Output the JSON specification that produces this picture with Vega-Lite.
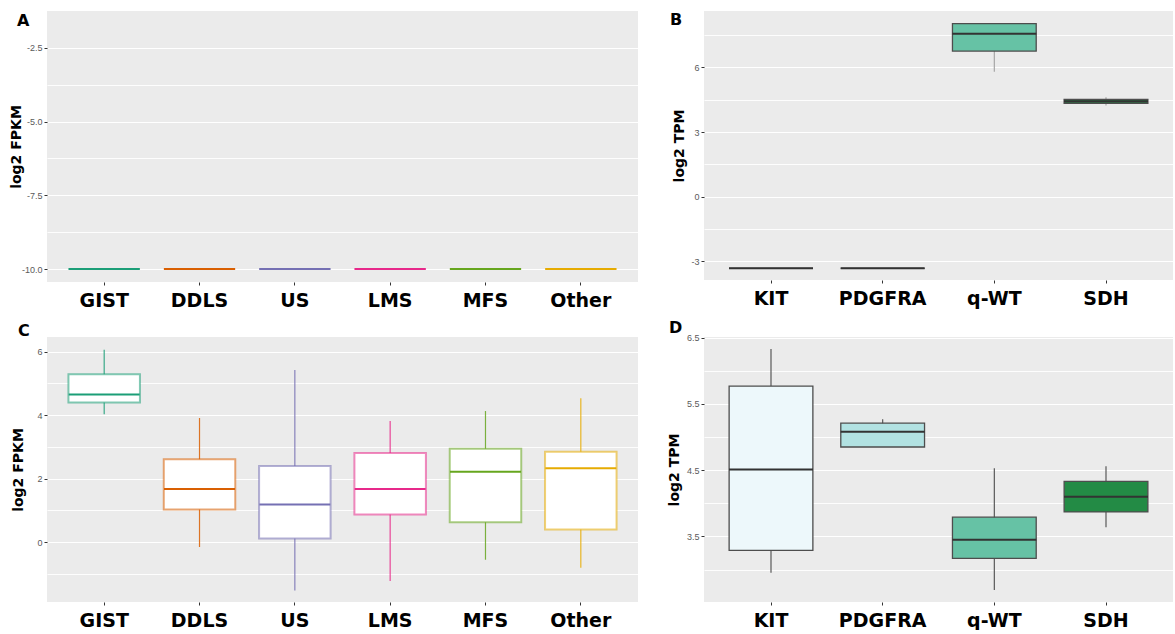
{
  "$schema": "https://vega.github.io/schema/vega-lite/v6.json",
  "padding": {"left": 9, "top": 11, "right": 0, "bottom": 0},
  "background": "white",
  "datasets": {
    "panelA": [
      {"group": "GIST", "lower": -10, "q1": -10, "median": -10, "q3": -10, "upper": -10},
      {"group": "DDLS", "lower": -10, "q1": -10, "median": -10, "q3": -10, "upper": -10},
      {"group": "US", "lower": -10, "q1": -10, "median": -10, "q3": -10, "upper": -10},
      {"group": "LMS", "lower": -10, "q1": -10, "median": -10, "q3": -10, "upper": -10},
      {"group": "MFS", "lower": -10, "q1": -10, "median": -10, "q3": -10, "upper": -10},
      {"group": "Other", "lower": -10, "q1": -10, "median": -10, "q3": -10, "upper": -10}
    ],
    "panelB": [
      {"group": "KIT", "lower": -3.32, "q1": -3.32, "median": -3.32, "q3": -3.32, "upper": -3.32},
      {"group": "PDGFRA", "lower": -3.32, "q1": -3.32, "median": -3.32, "q3": -3.32, "upper": -3.32},
      {"group": "q-WT", "lower": 5.8, "q1": 6.76, "median": 7.57, "q3": 8.03, "upper": 8.03},
      {"group": "SDH", "lower": 4.23, "q1": 4.34, "median": 4.43, "q3": 4.52, "upper": 4.62}
    ],
    "panelC": [
      {"group": "GIST", "lower": 4.03, "q1": 4.4, "median": 4.65, "q3": 5.29, "upper": 6.06},
      {"group": "DDLS", "lower": -0.15, "q1": 1.03, "median": 1.68, "q3": 2.61, "upper": 3.91},
      {"group": "US", "lower": -1.52, "q1": 0.12, "median": 1.19, "q3": 2.4, "upper": 5.42},
      {"group": "LMS", "lower": -1.22, "q1": 0.87, "median": 1.68, "q3": 2.81, "upper": 3.82},
      {"group": "MFS", "lower": -0.55, "q1": 0.63, "median": 2.22, "q3": 2.94, "upper": 4.13},
      {"group": "Other", "lower": -0.8, "q1": 0.4, "median": 2.33, "q3": 2.85, "upper": 4.53}
    ],
    "panelD": [
      {"group": "KIT", "lower": 2.95, "q1": 3.29, "median": 4.51, "q3": 5.77, "upper": 6.33},
      {"group": "PDGFRA", "lower": 4.85, "q1": 4.85, "median": 5.08, "q3": 5.21, "upper": 5.27},
      {"group": "q-WT", "lower": 2.69, "q1": 3.17, "median": 3.45, "q3": 3.79, "upper": 4.53},
      {"group": "SDH", "lower": 3.64, "q1": 3.87, "median": 4.1, "q3": 4.33, "upper": 4.56}
    ]
  },
  "columns": 2,
  "bounds": "flush",
  "align": "each",
  "spacing": {"row": 55, "column": 66},
  "concat": [
    {
      "width": 591,
      "height": 271,
      "title": {"text": "A", "dx": -30, "dy": 22},
      "data": {"name": "panelA"},
      "resolve": {"axis": {"y": "independent"}},
      "encoding": {
        "x": {"field": "group", "type": "nominal", "sort": null, "title": null,
              "scale": {"paddingInner": 0, "paddingOuter": 0.1}}
      },
      "layer": [
        {
          "mark": {"type": "rule", "strokeWidth": 1.2},
          "encoding": {
            "y": {"field": "lower", "type": "quantitative", "title": "log2 FPKM",
                  "scale": {"domain": [-10.44, -1.25], "nice": false, "zero": false},
                  "axis": {"values": [-10, -7.5, -5, -2.5], "format": ".1f", "titleX": -24,
                           "labelExpr": "replace(datum.label, '\u2212', '-')"}},
            "y2": {"field": "upper"},
            "color": {"field": "group", "type": "nominal", "legend": null,
                      "scale": {"domain": ["GIST", "DDLS", "US", "LMS", "MFS", "Other"],
                                "range": ["#1b9e77", "#d95f02", "#7570b3", "#e7298a", "#66a61e", "#e6ab02"]}}
          }
        },
        {
          "mark": {"type": "bar", "width": {"band": 0.75}, "fill": "white", "strokeWidth": 2, "strokeOpacity": 0.55},
          "encoding": {
            "y": {"field": "q1", "type": "quantitative", "title": null,
                  "scale": {"domain": [-10.44, -1.25], "nice": false, "zero": false},
                  "axis": {"orient": "left", "values": [-8.75, -6.25, -3.75], "labels": false, "ticks": false, "grid": true, "gridWidth": 0.9}},
            "y2": {"field": "q3"},
            "stroke": {"field": "group", "type": "nominal", "legend": null,
                       "scale": {"domain": ["GIST", "DDLS", "US", "LMS", "MFS", "Other"],
                                 "range": ["#1b9e77", "#d95f02", "#7570b3", "#e7298a", "#66a61e", "#e6ab02"]}}
          }
        },
        {
          "mark": {"type": "tick", "thickness": 2, "size": 71, "opacity": 1},
          "encoding": {
            "y": {"field": "median", "type": "quantitative", "axis": null,
                  "scale": {"domain": [-10.44, -1.25], "nice": false, "zero": false}},
            "color": {"field": "group", "type": "nominal", "legend": null,
                      "scale": {"domain": ["GIST", "DDLS", "US", "LMS", "MFS", "Other"],
                                "range": ["#1b9e77", "#d95f02", "#7570b3", "#e7298a", "#66a61e", "#e6ab02"]}}
          }
        }
      ]
    },
    {
      "width": 469,
      "height": 269,
      "title": {"text": "B", "dx": -34, "dy": 21},
      "data": {"name": "panelB"},
      "resolve": {"axis": {"y": "independent"}},
      "encoding": {
        "x": {"field": "group", "type": "nominal", "sort": null, "title": null,
              "scale": {"paddingInner": 0, "paddingOuter": 0.1}}
      },
      "layer": [
        {
          "mark": {"type": "rule", "strokeWidth": 1.2, "color": "#a6a6a6"},
          "encoding": {
            "y": {"field": "lower", "type": "quantitative", "title": "log2 TPM",
                  "scale": {"domain": [-3.86, 8.62], "nice": false, "zero": false},
                  "axis": {"values": [-3, 0, 3, 6], "format": "d", "titleX": -18,
                           "labelExpr": "replace(datum.label, '\u2212', '-')"}},
            "y2": {"field": "upper"}
          }
        },
        {
          "mark": {"type": "bar", "width": {"band": 0.75}, "stroke": "#4d4d4d", "strokeWidth": 1.3},
          "encoding": {
            "y": {"field": "q1", "type": "quantitative", "title": null,
                  "scale": {"domain": [-3.86, 8.62], "nice": false, "zero": false},
                  "axis": {"orient": "left", "values": [-1.5, 1.5, 4.5, 7.5], "labels": false, "ticks": false, "grid": true, "gridWidth": 0.9}},
            "y2": {"field": "q3"},
            "fill": {"field": "group", "type": "nominal", "legend": null,
                     "scale": {"domain": ["KIT", "PDGFRA", "q-WT", "SDH"],
                               "range": ["#edf8fb", "#b2e2e2", "#66c2a5", "#238b45"]}}
          }
        },
        {
          "mark": {"type": "tick", "thickness": 2, "size": 84, "color": "#333333", "opacity": 1},
          "encoding": {
            "y": {"field": "median", "type": "quantitative", "axis": null,
                  "scale": {"domain": [-3.86, 8.62], "nice": false, "zero": false}}
          }
        }
      ]
    },
    {
      "width": 591,
      "height": 265,
      "title": {"text": "C", "dx": -29, "dy": 6},
      "data": {"name": "panelC"},
      "resolve": {"axis": {"y": "independent"}},
      "encoding": {
        "x": {"field": "group", "type": "nominal", "sort": null, "title": null,
              "scale": {"paddingInner": 0, "paddingOuter": 0.1}}
      },
      "layer": [
        {
          "mark": {"type": "rule", "strokeWidth": 1.2, "opacity": 0.85},
          "encoding": {
            "y": {"field": "lower", "type": "quantitative", "title": "log2 FPKM",
                  "scale": {"domain": [-1.88, 6.46], "nice": false, "zero": false},
                  "axis": {"values": [0, 2, 4, 6], "format": "d", "titleX": -22}},
            "y2": {"field": "upper"},
            "color": {"field": "group", "type": "nominal", "legend": null,
                      "scale": {"domain": ["GIST", "DDLS", "US", "LMS", "MFS", "Other"],
                                "range": ["#1b9e77", "#d95f02", "#7570b3", "#e7298a", "#66a61e", "#e6ab02"]}}
          }
        },
        {
          "mark": {"type": "bar", "width": {"band": 0.75}, "fill": "white", "strokeWidth": 2, "strokeOpacity": 0.55},
          "encoding": {
            "y": {"field": "q1", "type": "quantitative", "title": null,
                  "scale": {"domain": [-1.88, 6.46], "nice": false, "zero": false},
                  "axis": {"orient": "left", "values": [-1, 1, 3, 5], "labels": false, "ticks": false, "grid": true, "gridWidth": 0.9}},
            "y2": {"field": "q3"},
            "stroke": {"field": "group", "type": "nominal", "legend": null,
                       "scale": {"domain": ["GIST", "DDLS", "US", "LMS", "MFS", "Other"],
                                 "range": ["#1b9e77", "#d95f02", "#7570b3", "#e7298a", "#66a61e", "#e6ab02"]}}
          }
        },
        {
          "mark": {"type": "tick", "thickness": 2, "size": 71, "opacity": 1},
          "encoding": {
            "y": {"field": "median", "type": "quantitative", "axis": null,
                  "scale": {"domain": [-1.88, 6.46], "nice": false, "zero": false}},
            "color": {"field": "group", "type": "nominal", "legend": null,
                      "scale": {"domain": ["GIST", "DDLS", "US", "LMS", "MFS", "Other"],
                                "range": ["#1b9e77", "#d95f02", "#7570b3", "#e7298a", "#66a61e", "#e6ab02"]}}
          }
        }
      ]
    },
    {
      "width": 469,
      "height": 265,
      "title": {"text": "D", "dx": -35, "dy": 6},
      "data": {"name": "panelD"},
      "resolve": {"axis": {"y": "independent"}},
      "encoding": {
        "x": {"field": "group", "type": "nominal", "sort": null, "title": null,
              "scale": {"paddingInner": 0, "paddingOuter": 0.1}}
      },
      "layer": [
        {
          "mark": {"type": "rule", "strokeWidth": 1.2, "color": "#595959"},
          "encoding": {
            "y": {"field": "lower", "type": "quantitative", "title": "log2 TPM",
                  "scale": {"domain": [2.51, 6.51], "nice": false, "zero": false},
                  "axis": {"values": [3.5, 4.5, 5.5, 6.5], "format": ".1f", "titleX": -23}},
            "y2": {"field": "upper"}
          }
        },
        {
          "mark": {"type": "bar", "width": {"band": 0.75}, "stroke": "#4d4d4d", "strokeWidth": 1.3},
          "encoding": {
            "y": {"field": "q1", "type": "quantitative", "title": null,
                  "scale": {"domain": [2.51, 6.51], "nice": false, "zero": false},
                  "axis": {"orient": "left", "values": [3, 4, 5, 6], "labels": false, "ticks": false, "grid": true, "gridWidth": 0.9}},
            "y2": {"field": "q3"},
            "fill": {"field": "group", "type": "nominal", "legend": null,
                     "scale": {"domain": ["KIT", "PDGFRA", "q-WT", "SDH"],
                               "range": ["#edf8fb", "#b2e2e2", "#66c2a5", "#238b45"]}}
          }
        },
        {
          "mark": {"type": "tick", "thickness": 2, "size": 84, "color": "#333333", "opacity": 1},
          "encoding": {
            "y": {"field": "median", "type": "quantitative", "axis": null,
                  "scale": {"domain": [2.51, 6.51], "nice": false, "zero": false}}
          }
        }
      ]
    }
  ],
  "config": {
    "view": {"fill": "#ebebeb", "stroke": null},
    "title": {"font": "DejaVu Sans", "fontSize": 16, "fontWeight": "bold", "color": "black",
              "anchor": "start", "frame": "group", "offset": 0, "baseline": "alphabetic"},
    "axis": {"domain": false, "gridColor": "white", "tickColor": "#333333", "tickSize": 3, "tickWidth": 1,
             "labelColor": "#5a5a5a", "labelFont": "Liberation Sans", "labelFontSize": 9,
             "titleFont": "DejaVu Sans", "titleFontWeight": "bold", "titleFontSize": 14, "titleColor": "black"},
    "axisX": {"labelFont": "DejaVu Sans", "labelFontWeight": "bold", "labelFontSize": 19, "labelColor": "black",
              "labelPadding": 6, "labelAngle": 0, "gridWidth": 1.2},
    "axisY": {"labelPadding": 2, "gridWidth": 1.2}
  }
}
